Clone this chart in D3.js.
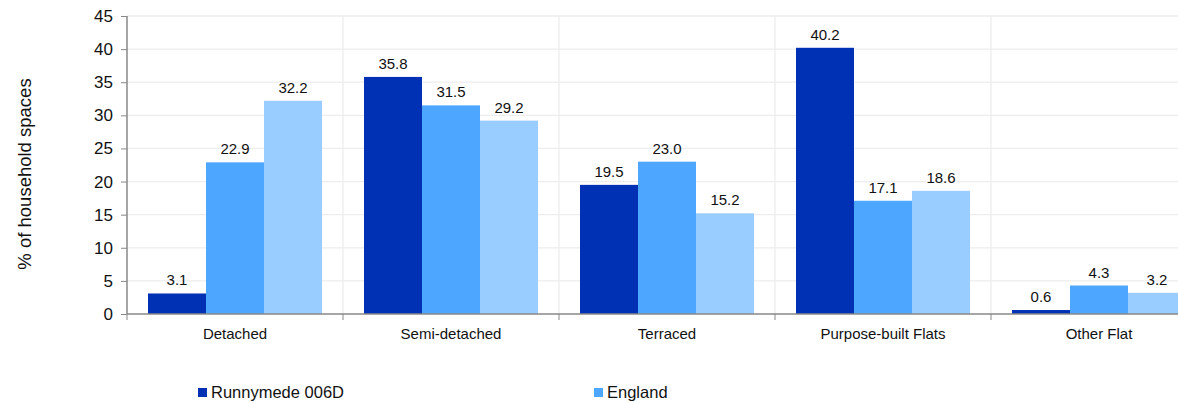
<!DOCTYPE html>
<html><head><meta charset="utf-8">
<script src="https://cdn.jsdelivr.net/npm/d3@7"></script>
<style>body{margin:0;background:#fff}svg{display:block;font-family:"Liberation Sans",Arial,sans-serif}</style>
</head><body>
<script>
const categories = ["Detached","Semi-detached","Terraced","Purpose-built Flats","Other Flat"];
const seriesNames = ["Runnymede 006D","England","Series 3"];
const runnymede006D = [3.1,35.8,19.5,40.2,0.6];
const england = [22.9,31.5,23.0,17.1,4.3];
const series3 = [32.2,29.2,15.2,18.6,3.2];
const yTicks = [0,5,10,15,20,25,30,35,40,45];
const legendNames = ["Runnymede 006D","England"];
const colors = ["#0030b4","#4da6ff","#99ccff"];

(function(){
const W=1178,H=403;
const svg=d3.select("body").append("svg").attr("width",W).attr("height",H);
const pL=127, pR=1207, pT=16, pB=314;
const x=d3.scaleBand().domain(categories).range([pL,pR]).paddingInner(0).paddingOuter(0);
const y=d3.scaleLinear().domain([0,45]).range([pB,pT]);
const data=[runnymede006D,england,series3];
const x1=d3.scaleBand().domain([0,1,2]).range([0,x.bandwidth()]).paddingOuter(0.362).paddingInner(0);

svg.append("g").selectAll("line").data(yTicks.filter(d=>d>0)).join("line")
  .attr("x1",pL).attr("x2",pR).attr("y1",d=>y(d)).attr("y2",d=>y(d))
  .attr("stroke","#ededed").attr("stroke-width",1.3);
svg.append("g").selectAll("line").data(categories.slice(1)).join("line")
  .attr("x1",d=>x(d)).attr("x2",d=>x(d)).attr("y1",pT).attr("y2",pB)
  .attr("stroke","#ededed").attr("stroke-width",1.3);

const g=svg.append("g");
categories.forEach((c,i)=>{
  data.forEach((s,j)=>{
    g.append("rect").attr("x",x(c)+x1(j)).attr("width",x1.bandwidth())
      .attr("y",y(s[i])).attr("height",y(0)-y(s[i])).attr("fill",colors[j]);
    g.append("text").attr("x",x(c)+x1(j)+x1.bandwidth()/2).attr("y",y(s[i])-8)
      .attr("text-anchor","middle").attr("font-size",15).attr("fill","#111")
      .text(s[i].toFixed(1));
  });
});

const ya=svg.append("g").attr("transform",`translate(${pL},0)`)
  .call(d3.axisLeft(y).tickValues(yTicks).tickSize(6).tickPadding(8));
ya.selectAll("text").attr("font-size",17).attr("fill","#111").style("font-family","'Liberation Sans',Arial,sans-serif");
ya.selectAll("line").attr("stroke","#888");
ya.select(".domain").attr("stroke","#888").attr("stroke-width",1.5).attr("d",`M0,${pT}V${pB}`);

const xa=svg.append("g").attr("transform",`translate(0,${pB})`);
xa.append("line").attr("x1",pL).attr("x2",pR).attr("stroke","#888").attr("stroke-width",1.5);
xa.selectAll("line.t").data(categories).join("line").attr("class","t")
  .attr("x1",d=>x(d)).attr("x2",d=>x(d)).attr("y1",0).attr("y2",6).attr("stroke","#888");
xa.selectAll("text").data(categories).join("text")
  .attr("x",d=>x(d)+x.bandwidth()/2).attr("y",25).attr("text-anchor","middle")
  .attr("font-size",15).attr("fill","#111").text(d=>d);

svg.append("text").attr("transform","translate(31,174) rotate(-90)").attr("text-anchor","middle")
  .attr("font-size",18.5).attr("fill","#111").text("% of household spaces");

const lg=svg.append("g").selectAll("g").data(legendNames).join("g")
  .attr("transform",(d,i)=>`translate(${198+i*396},384)`);
lg.append("rect").attr("width",9).attr("height",9).attr("y",4).attr("fill",(d,i)=>colors[i]);
lg.append("text").attr("x",13).attr("y",14).attr("font-size",16.5).attr("fill","#111").text(d=>d);
})();
</script>
</body></html>
